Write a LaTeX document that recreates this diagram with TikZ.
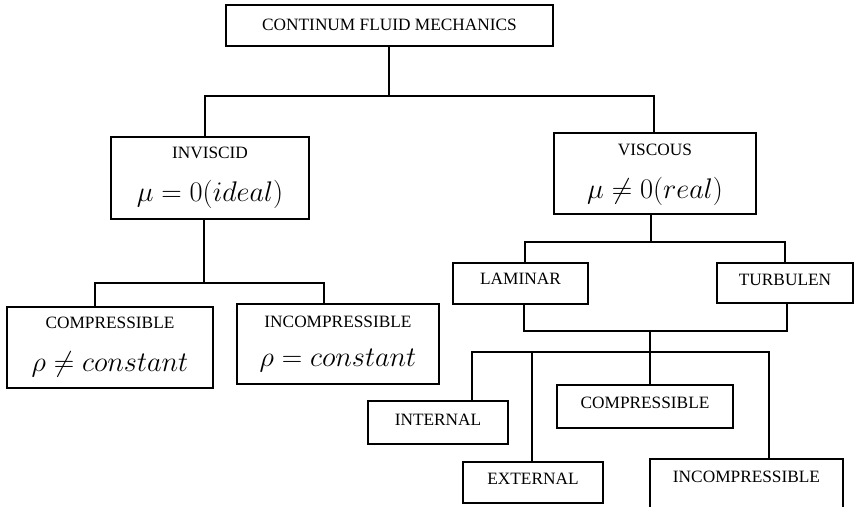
\documentclass[tikz,border=0pt]{standalone}
\usepackage{graphicx}
\usepackage{fontspec}
\setmainfont{Liberation Serif}
\usetikzlibrary{calc}
\newcommand{\bigmath}[1]{\scalebox{1.14}{$#1$}}
\begin{document}
\begin{tikzpicture}[x=1pt,y=-1pt,
  box/.style={draw,line width=1.6pt,inner sep=0pt,rectangle},
  txt/.style={inner sep=0pt,font=\fontsize{17.3}{19}\selectfont},
  fml/.style={inner sep=0pt,font=\fontsize{24.88}{30}\selectfont},
  conn/.style={line width=1.6pt}]
\clip (0,0) rectangle (854,506);
\fill[white] (0,0) rectangle (854,506);
% boxes
\node[box,minimum width=327,minimum height=41] (top) at (389.5,25.5) {};
\node[box,minimum width=198,minimum height=82] (inv) at (210,178) {};
\node[box,minimum width=202,minimum height=81] (visc) at (655,173.5) {};
\node[box,minimum width=206,minimum height=81] (compA) at (110,347.5) {};
\node[box,minimum width=202,minimum height=80] (incA) at (338,344) {};
\node[box,minimum width=135,minimum height=41] (lam) at (520.5,283.5) {};
\node[box,minimum width=136,minimum height=40] (turb) at (785,283) {};
\node[box,minimum width=140,minimum height=43] (int) at (438,422.5) {};
\node[box,minimum width=140,minimum height=41] (ext) at (533,482.5) {};
\node[box,minimum width=176,minimum height=43] (compB) at (645,406.5) {};
\node[box,minimum width=193,minimum height=60] (incB) at (746.5,489) {};
% texts
\node[txt] (topT) at (389.5,25) {CONTINUM FLUID MECHANICS};
\node[txt] (invT) at (210,153) {INVISCID};
\node[fml] (invF) at (210,194) {\bigmath{\mu=0(ideal)}};
\node[txt] (viscT) at (655,150) {VISCOUS};
\node[fml] (viscF) at (655,191) {\bigmath{\mu\neq0(real)}};
\node[txt] (compAT) at (110,323) {COMPRESSIBLE};
\node[fml] (compAF) at (110,364) {\bigmath{\rho\neq constant}};
\node[txt] (incAT) at (338,322) {INCOMPRESSIBLE};
\node[fml] (incAF) at (338,361) {\bigmath{\rho=constant}};
\node[txt] (lamT) at (520.5,279) {LAMINAR};
\node[txt] (turbT) at (785,280) {TURBULEN};
\node[txt] (intT) at (438,420) {INTERNAL};
\node[txt] (extT) at (533,479) {EXTERNAL};
\node[txt] (compBT) at (645,403) {COMPRESSIBLE};
\node[txt] (incBT) at (746.5,477) {INCOMPRESSIBLE};
% junctions
\coordinate (j0) at ([xshift=-0.5pt]top.south);
\coordinate (j1) at (389,96);
\coordinate (j2) at (204,283);
\coordinate (j3) at (651,242);
\coordinate (j4) at (650,331);
\coordinate (j5) at (650,352);
\coordinate (e1) at ([xshift=-1pt]ext.north);
% connectors
\draw[conn] (j0) -- (j1);
\draw[conn] ([xshift=-5pt]inv.north) |- (j1) -| ([xshift=-1pt]visc.north);
\draw[conn] ([xshift=-6pt]inv.south) -- (j2);
\draw[conn] ([xshift=-15pt]compA.north) |- (j2) -| ([xshift=-14pt]incA.north);
\draw[conn] ([xshift=-4pt]visc.south) -- (j3);
\draw[conn] ([xshift=4.5pt]lam.north) |- (j3) -| (turb.north);
\draw[conn] ([xshift=3.5pt]lam.south) |- (j4) -| ([xshift=2pt]turb.south);
\draw[conn] (j4) -- ([xshift=5pt]compB.north);
\draw[conn] ([xshift=34pt]int.north) |- (j5) -| ([xshift=22.5pt]incB.north);
\draw[conn] (e1) -- (e1 |- j5);
\end{tikzpicture}
\end{document}
